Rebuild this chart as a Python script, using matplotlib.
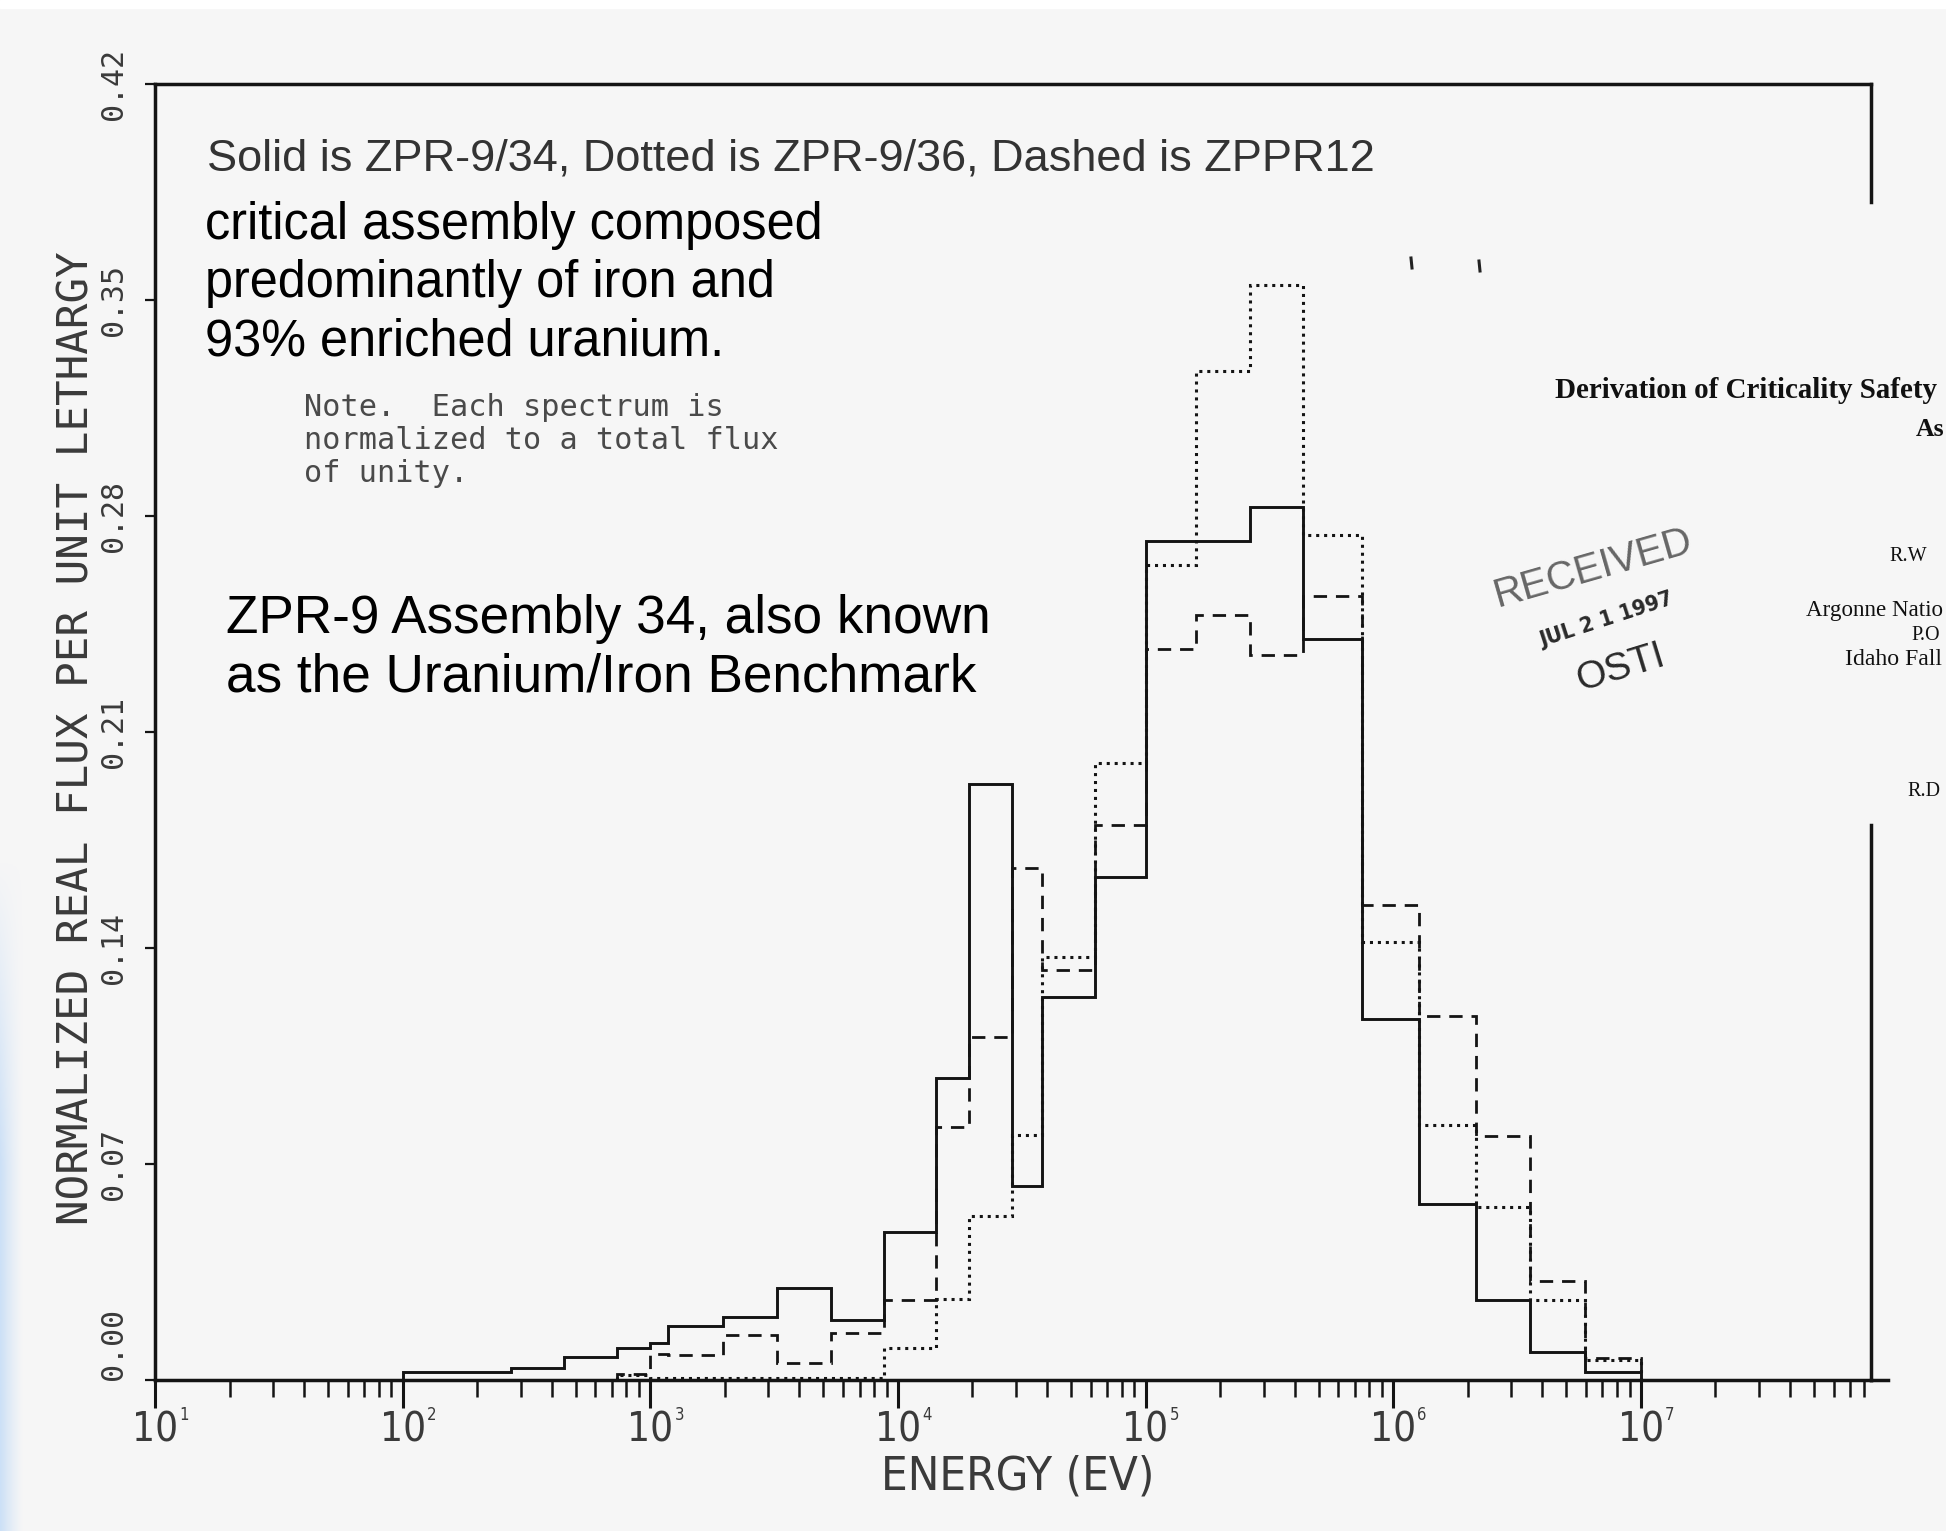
import numpy as np
import matplotlib
matplotlib.use("Agg")
import matplotlib.pyplot as plt
from matplotlib import transforms, font_manager
from matplotlib.lines import Line2D
from matplotlib.patches import Rectangle
from matplotlib.ticker import LogLocator, NullLocator

# ---- data -----------------------------------------------------------------
# group boundaries (eV)
energy_edges_ev = [100, 275, 447, 736, 1000, 1175, 1968, 3243, 5346, 8790,
                   14260, 19450, 28770, 38110, 62660, 100000, 159600, 264800,
                   430500, 750000, 1276000, 2153000, 3573000, 5970000, 10000000]

# normalized real flux per unit lethargy in each group (nan = not plotted)
flux_zpr9_34 = [0.0027, 0.0038, 0.0076, 0.0103, 0.0119, 0.0176, 0.0205, 0.0297,
                0.0194, 0.048, 0.098, 0.193, 0.063, 0.124, 0.163, 0.272,
                0.272, 0.283, 0.240, 0.117, 0.057, 0.026, 0.009, 0.0025]
flux_zpr9_36 = [np.nan, np.nan, np.nan, 0.0015, 0.0005, 0.0005, 0.0008, 0.0008,
                0.0008, 0.0104, 0.0264, 0.0533, 0.0794, 0.137, 0.200, 0.264,
                0.327, 0.355, 0.274, 0.142, 0.0825, 0.056, 0.026, 0.0065]
flux_zppr12 = [np.nan, np.nan, np.nan, 0.002, 0.0085, 0.0081, 0.0146, 0.0054,
               0.0151, 0.026, 0.082, 0.111, 0.166, 0.133, 0.180, 0.237,
               0.248, 0.235, 0.254, 0.154, 0.118, 0.079, 0.032, 0.007]

ytick_values = [0.00, 0.07, 0.14, 0.21, 0.28, 0.35, 0.42]
ytick_labels = ["0.00", "0.07", "0.14", "0.21", "0.28", "0.35", "0.42"]
xtick_exponents = [1, 2, 3, 4, 5, 6, 7]

legend_text = "Solid is ZPR-9/34, Dotted is ZPR-9/36, Dashed is ZPPR12"
assembly_lines = ["critical assembly composed", "predominantly of iron and",
                  "93% enriched uranium."]
benchmark_lines = ["ZPR-9 Assembly 34, also known", "as the Uranium/Iron Benchmark"]
note_lines = ["Note.  Each spectrum is", "normalized to a total flux", "of unity."]
x_label = "ENERGY (EV)"
y_label = "NORMALIZED REAL FLUX PER UNIT LETHARGY"

# ---- figure ---------------------------------------------------------------
W, H = 1946, 1531
BG = "#f6f6f6"
INK = "#141414"
PLOT_TXT = "#3a3a3a"

MONO = "DejaVu Sans Mono"
SANS = "Liberation Sans"
SERIF = "Liberation Serif"

# a narrow face for the plotter-style tick numbers, if one is installed
NARROW = {"family": "DejaVu Sans"}
for f in font_manager.fontManager.ttflist:
    if "Narrow" in f.name and "Liberation" in f.name:
        NARROW = {"family": f.name}
        break
else:
    for f in font_manager.fontManager.ttflist:
        if f.name == "DejaVu Sans" and f.stretch in ("condensed", "semi-condensed") \
                and f.weight in (400, "normal", "regular", "book"):
            NARROW = {"family": "DejaVu Sans", "stretch": "condensed"}
            break

fig = plt.figure(figsize=(W / 100, H / 100), dpi=100, facecolor=BG)
renderer = fig.canvas.get_renderer()


def fpos(x, y):
    """pixel position (from top-left) -> figure fraction"""
    return x / W, 1 - y / H


def put(x, y, s, size, target_w=None, target_h=None, **kw):
    t = fig.text(*fpos(x, y), s, fontsize=size, **kw)
    if target_w or target_h:
        bb = t.get_window_extent(renderer)
        scale = target_w / bb.width if target_w else target_h / bb.height
        t.set_fontsize(size * scale)
    return t


def put_lines(x, baselines, lines, target_w, fit_index=0, **kw):
    probe = fig.text(0, 0, lines[fit_index], fontsize=20, **kw)
    size = 20 * target_w / probe.get_window_extent(renderer).width
    probe.remove()
    for yb, s in zip(baselines, lines):
        put(x, yb, s, size, va="baseline", ha="left", **kw)


# scanned page edges
fig.add_artist(Rectangle((0, 1 - 8 / H), 1, 8 / H, transform=fig.transFigure,
                         color="white", zorder=0))
grad_ax = fig.add_axes([0, 0, 24 / W, (H - 860) / H])
grad_ax.axis("off")
gy, gx = np.mgrid[0:1:200j, 0:1:20j]
grad = np.zeros((200, 20, 4))
grad[..., 0], grad[..., 1], grad[..., 2] = 0.80, 0.88, 0.97
grad[..., 3] = np.clip(gy * 2.2, 0, 1) * (1 - gx) ** 1.3
grad_ax.imshow(grad, aspect="auto", origin="upper")

# ---- axes -----------------------------------------------------------------
L, R, T, B = 155, 1871, 84, 1380
ax = fig.add_axes([L / W, 1 - B / H, (R - L) / W, (B - T) / H])
ax.set_facecolor("none")
ax.set_xscale("log")
ax.set_xlim(10, 8.5e7)
ax.set_ylim(0, 0.42)

edges = np.array(energy_edges_ev, dtype=float)


def draw_series(vals, **kw):
    v = np.array(vals, dtype=float)
    ok = ~np.isnan(v)
    i0 = int(np.argmax(ok))
    i1 = len(v) - int(np.argmax(ok[::-1]))
    ax.stairs(v[i0:i1], edges[i0:i1 + 1], baseline=0, fill=False,
              edgecolor=INK, **kw)


draw_series(flux_zpr9_36, linewidth=2.2, linestyle=(0, (1.0, 1.6)))
draw_series(flux_zppr12, linewidth=2.0, linestyle=(0, (4.8, 3.2)))
draw_series(flux_zpr9_34, linewidth=2.1, linestyle="-")

for side in ("left", "bottom", "top"):
    ax.spines[side].set_linewidth(2.5)
    ax.spines[side].set_color(INK)
ax.spines["right"].set_visible(False)
for y0, y1 in ((0.0, 0.428), (0.909, 1.0)):
    ax.add_line(Line2D([1, 1], [y0, y1], transform=ax.transAxes, color=INK,
                       linewidth=2.5, clip_on=False))
# the baseline runs a little past the frame
ax.add_line(Line2D([1, 1.01], [0, 0], transform=ax.transAxes, color=INK,
                   linewidth=2.5, clip_on=False))

ax.xaxis.set_major_locator(LogLocator(base=10, numticks=20))
ax.xaxis.set_minor_locator(LogLocator(base=10, subs=np.arange(2, 10), numticks=200))
ax.tick_params(axis="x", which="major", direction="out", length=20, width=2.2,
               color=INK, labelbottom=False, top=False)
ax.tick_params(axis="x", which="minor", direction="out", length=12, width=1.8,
               color=INK, labelbottom=False, top=False)
ax.set_yticks(ytick_values)
ax.yaxis.set_minor_locator(NullLocator())
ax.tick_params(axis="y", direction="out", length=7, width=1.6, color=INK,
               labelleft=False, right=False)

# x tick labels: "10" with a small raised exponent at its upper right
tx = transforms.blended_transform_factory(ax.transData, fig.transFigure)
for k in xtick_exponents:
    base = ax.text(10.0 ** k, 1 - 1431 / H, "10", transform=tx, ha="center",
                   va="center", fontsize=29, color=PLOT_TXT, **NARROW)
    bb = base.get_window_extent(renderer)
    fig.text((bb.x1 + 1) / W, (bb.y1 + 5) / H, str(k), ha="left", va="top",
             fontsize=12, color=PLOT_TXT, **NARROW)

# y tick labels, rotated
ty = transforms.blended_transform_factory(fig.transFigure, ax.transData)
for i, (v, s) in enumerate(zip(ytick_values, ytick_labels)):
    ax.text(114 / W, v, s, transform=ty, rotation=90, ha="center",
            va="bottom" if i == 0 else "center", family=MONO, fontsize=21.5,
            color=PLOT_TXT)

# axis titles
put(77, 738, y_label, 30, target_h=968, rotation=90, ha="center", va="center",
    family=MONO, color=PLOT_TXT)
put(1018, 1477, x_label, 30, target_w=273, ha="center", va="center",
    color=PLOT_TXT, **NARROW)

# ---- annotations ----------------------------------------------------------
put_lines(207, [171], [legend_text], 1170, family=SANS, color="#333333")
put_lines(205, [239, 297, 355], assembly_lines, 617, family=SANS, color="black")
put_lines(226, [633, 692], benchmark_lines, 765, family=SANS, color="black")
put_lines(304, [416, 449, 482], note_lines, 475, fit_index=1, family=MONO,
          color="#4a4a4a")

# page header fragment at the right edge
put(1555, 398, "Derivation of Criticality Safety", 18.5, target_w=384,
    ha="left", va="baseline", family=SERIF, weight="bold", color="#111111")
put(1916, 436, "As", 18.5, ha="left", va="baseline", family=SERIF,
    weight="bold", color="#111111")
put(1889, 561, "R.W", 14.5, ha="left", va="baseline", family=SERIF,
    color="#111111")
put(1806, 616, "Argonne Natio", 14.5, target_w=136, ha="left", va="baseline",
    family=SERIF, color="#111111")
put(1911, 640, "P.O", 14.5, ha="left", va="baseline", family=SERIF,
    color="#111111")
put(1845, 665, "Idaho Fall", 14.5, target_w=97, ha="left", va="baseline",
    family=SERIF, color="#111111")
put(1907, 796, "R.D", 14.5, ha="left", va="baseline", family=SERIF,
    color="#111111")

# receipt stamp
put(1593, 568, "RECEIVED", 26, target_w=208, rotation=16, ha="center",
    va="center", family=SANS, color="#666666", rotation_mode="anchor")
put(1606, 620, "JUL 2 1 1997", 17, target_w=140, rotation=18, ha="center",
    va="center", color="#2a2a2a", weight="bold", rotation_mode="anchor",
    **NARROW)
put(1621, 668, "OSTI", 28, rotation=17, ha="center", va="center",
    family=SANS, color="#2a2a2a", rotation_mode="anchor")

# small ink marks on the page
for mx, my in ((1411, 263), (1479, 266)):
    x0, y0 = fpos(mx, my - 5)
    x1, y1 = fpos(mx + 1, my + 5)
    fig.add_artist(Line2D([x0, x1], [y0, y1], transform=fig.transFigure,
                          color="#222222", linewidth=2.2))

fig.savefig("out.png", dpi=100, facecolor=BG)
